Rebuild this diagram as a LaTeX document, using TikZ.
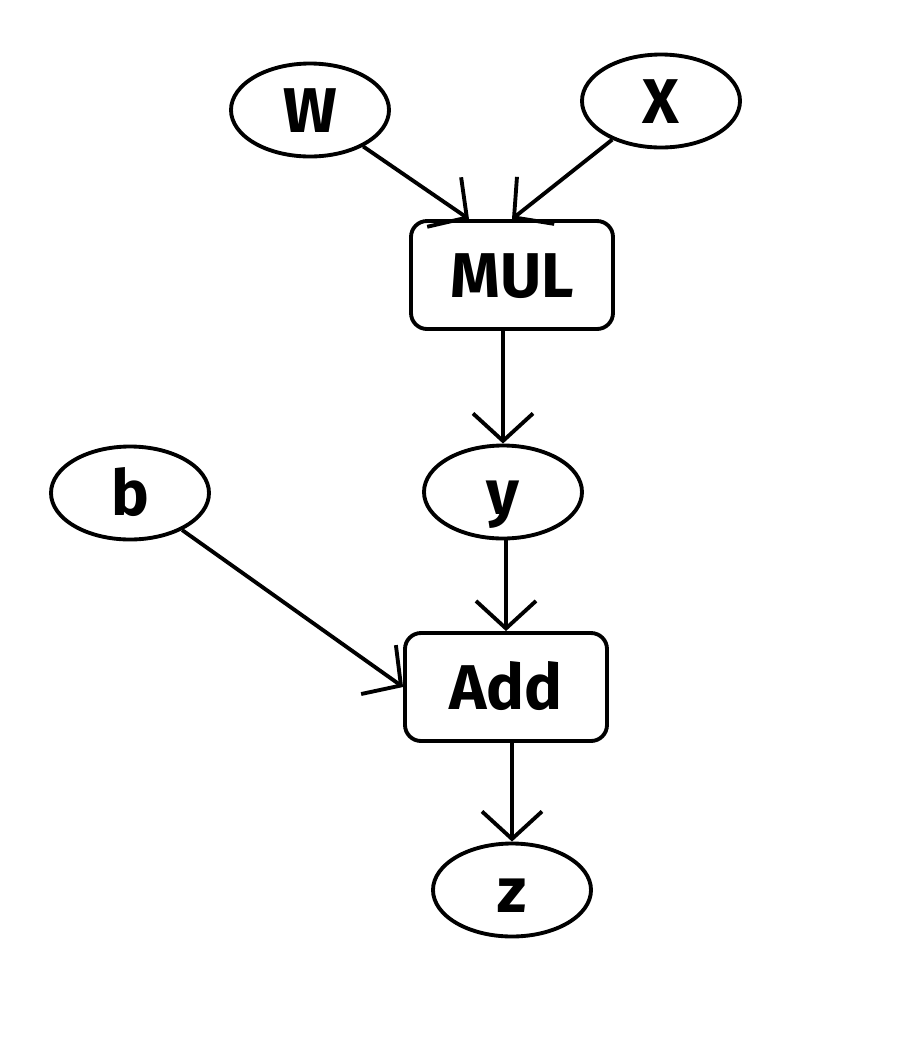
\documentclass[tikz,border=0pt]{standalone}
\usepackage{fontspec}
\setmainfont{Fira Sans}
\usetikzlibrary{shapes.geometric,arrows.meta}

\begin{document}
\begin{tikzpicture}[
    line width=2.2pt,
    var/.style={draw, ellipse, minimum width=3.16cm, minimum height=1.86cm, inner sep=0pt, text height=0.9cm, text depth=0pt, font=\fontsize{36}{40}\selectfont\bfseries},
    op/.style={draw, rounded corners=0.32cm, minimum width=4.04cm, minimum height=2.16cm, inner sep=0pt, text height=0.9cm, text depth=0pt, font=\fontsize{36}{40}\selectfont\bfseries},
    arr/.style={-{Straight Barb[length=5.5mm, width=12mm]}}
]
    \useasboundingbox (0,0) rectangle (18.16,-20.8);

    % Variables and operations
    \node[var] (W) at (6.2,-2.2) {W};
    \node[var] (X) at (13.22,-2.02) {X};
    \node[op] (MUL) at (10.24,-5.5) {MUL};
    \node[var] (y) at (10.06,-9.84) {y};
    \node[var] (b) at (2.6,-9.86) {b};
    \node[op] (Add) at (10.12,-13.74) {Add};
    \node[var] (z) at (10.24,-17.8) {z};

    % Edges
    \draw[arr] (W) -- ([xshift=-0.86cm]MUL.north);
    \draw[arr] (X) -- (MUL.north);
    \draw[arr] (y.north |- MUL.south) -- (y.north);
    \draw[arr] (y.south -| Add.north) -- (Add.north);
    \draw[arr] (b) -- (Add.west);
    \draw[arr] (Add.south -| z.north) -- (z.north);

\end{tikzpicture}
\end{document}
